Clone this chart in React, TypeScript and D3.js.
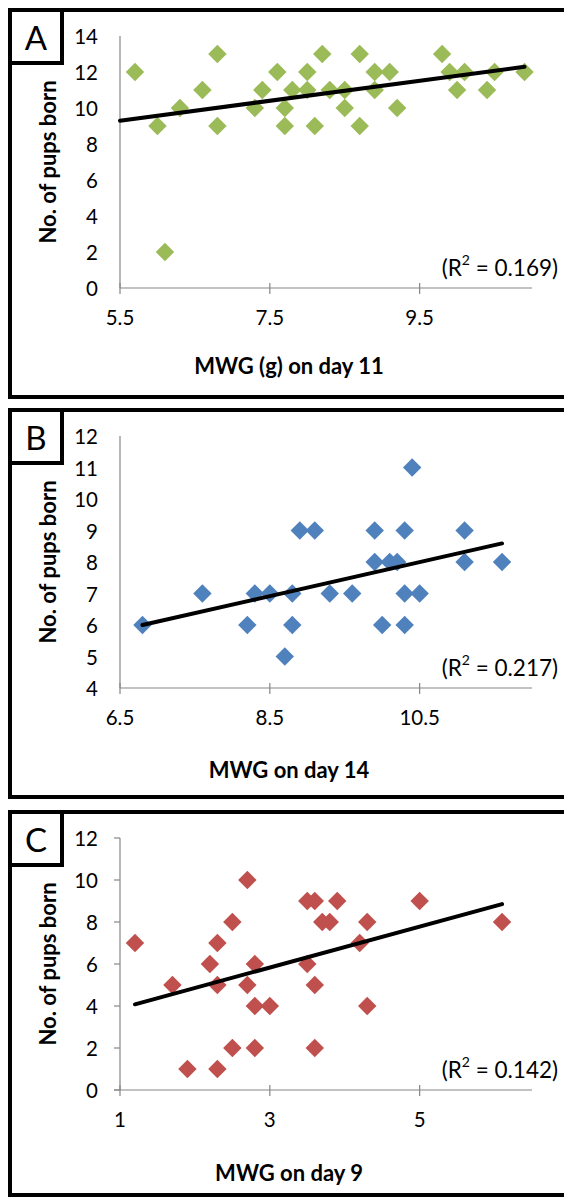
import * as d3 from "d3";

// panel texts
const panelLabels = ["A", "B", "C"];
const xTitles = ["MWG (g) on day 11", "MWG on day 14", "MWG on day 9"];
const yTitle = "No. of pups born";
const r2Values = ["0.169", "0.217", "0.142"];

// panel A: MWG day 11 vs pups
const aX = [5.7, 6.0, 6.1, 6.3, 6.6, 6.8, 6.8, 7.3, 7.4, 7.6, 7.7, 7.7, 7.8, 8.0, 8.0, 8.1, 8.2, 8.3, 8.5, 8.5, 8.7, 8.7, 8.9, 8.9, 9.1, 9.2, 9.8, 9.9, 10.0, 10.1, 10.4, 10.5, 10.9];
const aY = [12, 9, 2, 10, 11, 13, 9, 10, 11, 12, 10, 9, 11, 12, 11, 9, 13, 11, 11, 10, 13, 9, 12, 11, 12, 10, 13, 12, 11, 12, 11, 12, 12];
const aTrendX = [5.5, 10.9];
const aTrendY = [9.29, 12.29];

// panel B: MWG day 14 vs pups
const bX = [6.8, 7.6, 8.2, 8.3, 8.5, 8.7, 8.8, 8.8, 8.9, 9.1, 9.3, 9.6, 9.9, 9.9, 10.0, 10.1, 10.2, 10.3, 10.3, 10.3, 10.4, 10.5, 11.1, 11.1, 11.6];
const bY = [6, 7, 6, 7, 7, 5, 7, 6, 9, 9, 7, 7, 9, 8, 6, 8, 8, 9, 7, 6, 11, 7, 9, 8, 8];
const bTrendX = [6.8, 11.6];
const bTrendY = [6.0, 8.59];

// panel C: MWG day 9 vs pups
const cX = [1.2, 1.7, 1.9, 2.2, 2.3, 2.3, 2.3, 2.5, 2.5, 2.7, 2.7, 2.8, 2.8, 2.8, 3.0, 3.5, 3.5, 3.6, 3.6, 3.6, 3.7, 3.8, 3.9, 4.2, 4.3, 4.3, 5.0, 6.1];
const cY = [7, 5, 1, 6, 7, 5, 1, 8, 2, 10, 5, 6, 4, 2, 4, 9, 6, 9, 5, 2, 8, 8, 9, 7, 8, 4, 9, 8];
const cTrendX = [1.2, 6.1];
const cTrendY = [4.08, 8.85];

// axis tick values
const aXTicks = [5.5, 7.5, 9.5];
const bXTicks = [6.5, 8.5, 10.5];
const cXTicks = [1, 3, 5];
const aYTicks = [0, 2, 4, 6, 8, 10, 12, 14];
const bYTicks = [4, 5, 6, 7, 8, 9, 10, 11, 12];
const cYTicks = [0, 2, 4, 6, 8, 10, 12];

const FONT = "Lato, 'Open Sans', sans-serif";
const AXIS = "#868686";

const panels = [
  { xs: aX, ys: aY, tx: aTrendX, ty: aTrendY, xd: [5.5, 11], yd: [0, 14], xt: aXTicks, yt: aYTicks, color: "#9BBB59", top: 10, bottom: 397, yTickOut: false, titleDy: 77 },
  { xs: bX, ys: bY, tx: bTrendX, ty: bTrendY, xd: [6.5, 12], yd: [4, 12], xt: bXTicks, yt: bYTicks, color: "#4F81BD", top: 410, bottom: 797, yTickOut: false, titleDy: 81 },
  { xs: cX, ys: cY, tx: cTrendX, ty: cTrendY, xd: [1, 6.5], yd: [0, 12], xt: cXTicks, yt: cYTicks, color: "#C0504D", top: 812, bottom: 1195, yTickOut: true, titleDy: 82 },
];

const diamond = d3.symbol(d3.symbolSquare, 170)();

function Panel({ p, i }) {
  const left = 120;
  const right = 532;
  const plotTop = p.top + 26;
  const plotBottom = p.top + 278;
  const x = d3.scaleLinear().domain(p.xd).range([left, right]);
  const y = d3.scaleLinear().domain(p.yd).range([plotBottom, plotTop]);
  const line = d3
    .line<number>()
    .x((d) => x(d))
    .y((_, k) => y(p.ty[k]));

  return (
    <g>
      {/* outer frame */}
      <rect x={10} y={p.top} width={600} height={p.bottom - p.top} fill="white" stroke="black" strokeWidth={4} />
      <rect x={10} y={p.top} width={52} height={53} fill="white" stroke="black" strokeWidth={4} />
      <text x={36} y={p.top + 27} textAnchor="middle" dominantBaseline="central" fontFamily={FONT} fontSize={33}>
        {panelLabels[i]}
      </text>

      {/* axes */}
      <line x1={left} x2={left} y1={plotTop} y2={plotBottom} stroke={AXIS} strokeWidth={1.2} />
      <line x1={p.yTickOut ? left - 6 : left} x2={right} y1={plotBottom} y2={plotBottom} stroke={AXIS} strokeWidth={1.2} />
      {p.yTickOut &&
        p.yt.map((t) => (
          <line key={t} x1={left - 6} x2={left} y1={y(t)} y2={y(t)} stroke={AXIS} strokeWidth={1.2} />
        ))}
      {p.xt.map((t) => (
        <line key={t} x1={x(t)} x2={x(t)} y1={plotBottom - 5} y2={plotBottom + 6} stroke={AXIS} strokeWidth={1.2} />
      ))}
      {p.yt.map((t) => (
        <text key={t} x={98} y={y(t)} textAnchor="end" dominantBaseline="central" fontFamily={FONT} fontSize={20.5}>
          {t}
        </text>
      ))}
      {p.xt.map((t) => (
        <text key={t} x={x(t)} y={plotBottom + 29} textAnchor="middle" dominantBaseline="central" fontFamily={FONT} fontSize={20.5}>
          {t}
        </text>
      ))}

      {/* titles */}
      <text x={289} y={plotBottom + p.titleDy} textAnchor="middle" dominantBaseline="central" fontFamily={FONT} fontSize={22} fontWeight="bold">
        {xTitles[i]}
      </text>
      <text
        transform={`translate(47, ${(plotTop + plotBottom) / 2}) rotate(-90)`}
        textAnchor="middle"
        dominantBaseline="central"
        fontFamily={FONT}
        fontSize={22}
        fontWeight="bold"
      >
        {yTitle}
      </text>

      {/* points */}
      {p.xs.map((v, k) => (
        <path key={k} d={diamond} transform={`translate(${x(v)}, ${y(p.ys[k])}) rotate(45)`} fill={p.color} />
      ))}

      {/* trend line */}
      <path d={line(p.tx)} fill="none" stroke="black" strokeWidth={4} strokeLinecap="round" />

      <text x={558} y={plotBottom - 21} textAnchor="end" dominantBaseline="central" fontFamily={FONT} fontSize={22.5}>
        (R<tspan fontSize={14} dy={-8}>2</tspan>
        <tspan dy={8}> = {r2Values[i]})</tspan>
      </text>
    </g>
  );
}

export default function App() {
  return (
    <svg width={564} height={1197} style={{ position: "absolute", left: 0, top: 0, background: "white" }}>
      <rect width={564} height={1197} fill="white" />
      {panels.map((p, i) => (
        <Panel key={i} p={p} i={i} />
      ))}
    </svg>
  );
}
